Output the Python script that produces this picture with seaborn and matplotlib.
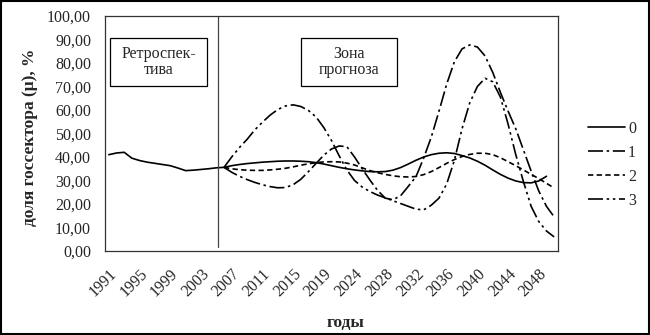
import matplotlib
matplotlib.use("Agg")
import matplotlib.pyplot as plt
import seaborn as sns
import numpy as np
import pandas as pd
from matplotlib.patches import Rectangle
from matplotlib.lines import Line2D

# ---------------- data ----------------
years = list(range(1991, 2020)) + list(range(2021, 2051))   # 59 categories
tick_labels = [str(y) for y in years[::4]]

nan = np.nan
# scenario 0 (history 1991-2006 + forecast)
s0 = [41.0, 41.7, 42.0, 39.5, 38.5, 37.8, 37.3, 36.8, 36.3, 35.3,
      34.2, 34.4, 34.7, 35.0, 35.4, 35.6, 36.3, 36.8, 37.2, 37.5,
      37.8, 38.0, 38.2, 38.3, 38.3, 38.2, 38.0, 37.6, 37.0, 36.3,
      35.6, 35.0, 34.5, 34.1, 33.8, 33.7, 33.8, 34.4, 35.5, 37.0,
      38.6, 40.0, 41.0, 41.6, 41.8, 41.5, 40.6, 39.6, 38.2, 36.5,
      34.5, 32.6, 31.0, 29.8, 29.1, 29.0, 29.8, 31.8, nan]
# scenario 1
s1 = [nan] * 15 + [35.6, 33.5, 31.8, 30.4, 29.2, 28.2, 27.4, 26.9, 27.0, 28.2,
      30.5, 33.8, 37.3, 40.8, 43.4, 44.7, 44.4, 40.0, 35.0, 30.2,
      25.8, 22.5, 21.8, 23.5, 27.5, 31.6, 39.5, 48.5, 59.5, 71.0,
      80.5, 86.0, 87.7, 86.8, 83.0, 76.0, 67.5, 59.5, 52.0, 43.0,
      34.0, 25.5, 19.0, 14.5]
# scenario 2
s2 = [nan] * 15 + [35.6, 35.0, 34.6, 34.4, 34.3, 34.3, 34.5, 34.8, 35.2, 35.8,
      36.5, 37.1, 37.6, 37.9, 38.0, 37.9, 37.4, 36.6, 35.4, 34.2,
      33.3, 32.6, 32.0, 31.6, 31.5, 31.7, 32.5, 33.8, 35.5, 37.3,
      38.9, 40.2, 41.1, 41.6, 41.6, 41.0, 39.7, 38.0, 36.3, 34.5,
      32.6, 30.8, 28.8, 26.8]
# scenario 3
s3 = [nan] * 15 + [35.6, 40.0, 44.0, 47.5, 51.5, 54.8, 57.8, 60.2, 61.7, 62.2,
      61.5, 59.8, 57.0, 52.5, 47.0, 40.5, 34.5, 30.0, 27.2, 25.3,
      23.8, 22.6, 21.4, 20.2, 19.0, 17.8, 17.5, 19.5, 22.5, 28.5,
      38.5, 52.0, 63.0, 70.0, 73.5, 72.0, 65.5, 54.0, 41.0, 29.5,
      19.0, 12.5, 8.5, 6.0]

series_names = ["0", "1", "2", "3"]
series_vals = [s0, s1, s2, s3]

pos = np.arange(len(years))
rows = []
for name, vals in zip(series_names, series_vals):
    for p, v in zip(pos, vals):
        rows.append({"pos": p, "val": v, "scen": name})
df = pd.DataFrame(rows)

# ---------------- style ----------------
sns.set_theme(style="white")
plt.rcParams["font.family"] = ["Liberation Serif", "DejaVu Serif"]

fig = plt.figure(figsize=(6.5, 3.35), dpi=100)
ax = fig.add_axes([105 / 650, 1 - 251 / 335, 453 / 650, 235 / 335])

styles = {
    "0": "-",
    "1": (0, (9, 2.2, 1.5, 2.2)),
    "2": (0, (3.2, 2)),
    "3": (0, (9, 2.2, 1.5, 2.2, 1.5, 2.2)),
}
handles = []
for name in series_names:
    sub = df[df["scen"] == name].dropna()
    sns.lineplot(data=sub, x="pos", y="val", ax=ax, color="black",
                 linewidth=1.2, linestyle=styles[name], estimator=None,
                 sort=False)
    handles.append(Line2D([0], [0], color="black", lw=1.2, linestyle=styles[name]))

ax.set_xlim(-0.5, len(years) - 0.5)
ax.set_ylim(0, 100)
ax.set_yticks(np.arange(0, 101, 10))
ax.set_yticklabels([f"{v:.2f}".replace(".", ",") for v in np.arange(0, 101, 10)],
                   fontsize=11.5)
ax.set_xticks(pos[::4])
ax.set_xticklabels(tick_labels, rotation=45, ha="right", va="top",
                   rotation_mode="anchor", fontsize=11.5)
ax.tick_params(axis="both", length=0)
ax.tick_params(axis="y", pad=10)
ax.tick_params(axis="x", pad=11)

for sp in ax.spines.values():
    sp.set_color("#333333")
    sp.set_linewidth(0.9)
    sp.set_visible(True)

ax.set_xlabel("годы", fontsize=12.5, fontweight="bold")
ax.set_ylabel("доля госсектора (μ), %", fontsize=12.5, fontweight="bold")
ax.xaxis.set_label_coords((345 - 105) / 453, -(323 - 251) / 235)
ax.xaxis.label.set_va("center")
ax.yaxis.set_label_coords(-(105 - 30) / 453, (251 - 137) / 235)
ax.yaxis.label.set_va("center")

# divider between retrospective and forecast
ax.plot([14.2, 14.2], [1.7, 100], color="#444444", lw=0.9)

# zone labels with boxes (pixel geometry of reference boxes)
px = lambda x: (x - 108.8) / 7.678
py = lambda y: (251 - y) / 2.35
for (x0, x1, txt) in [(110, 207, "Ретроспек-\nтива"), (301, 397, "Зона\nпрогноза")]:
    ax.add_patch(Rectangle((px(x0), py(86)), px(x1) - px(x0), py(38) - py(86),
                           fill=False, ec="black", lw=0.9, zorder=4))
    ax.text((px(x0) + px(x1)) / 2, py(62), txt, ha="center", va="center",
            fontsize=11.5, linespacing=1.0, zorder=5)

leg = fig.legend(handles, series_names, loc="upper left",
                 bbox_to_anchor=(588 / 650, 1 - 121 / 335), frameon=False,
                 fontsize=11.5, handlelength=2.3, handletextpad=0.2,
                 labelspacing=0.5, borderpad=0, borderaxespad=0)

fig.patches.append(Rectangle((0.001, 0.002), 0.997, 0.995, transform=fig.transFigure,
                             fill=False, ec="black", lw=1.5))

fig.savefig("out.png", dpi=100)
